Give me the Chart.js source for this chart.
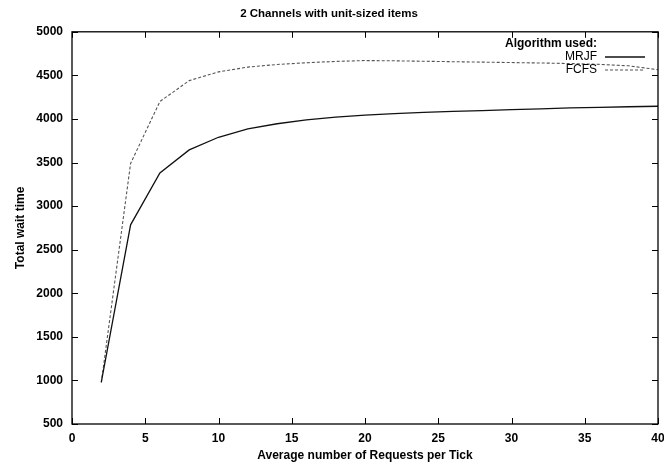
<!DOCTYPE html>
<html>
<head>
<meta charset="utf-8">
<script src="https://cdn.jsdelivr.net/npm/chart.js@4.4.1/dist/chart.umd.min.js"></script>
<style>
  html,body{margin:0;padding:0;background:#fff;}
  #wrap{width:664px;height:464px;}
</style>
</head>
<body>
<div id="wrap"><canvas id="waitChart" width="664" height="464"></canvas></div>
<script>
const requests = [2,4,6,8,10,12,14,16,18,20,22,24,26,28,30,32,34,36,38,40];
const mrjf = [980,2785,3380,3645,3790,3885,3945,3990,4020,4045,4062,4076,4086,4096,4106,4116,4126,4134,4140,4146];
const fcfs = [975,3490,4200,4440,4540,4595,4625,4645,4660,4670,4667,4662,4657,4652,4647,4642,4636,4626,4610,4565];
const xTicks = [0,5,10,15,20,25,30,35,40];
const yTicks = [500,1000,1500,2000,2500,3000,3500,4000,4500,5000];

const FONT = 'Liberation Sans, Arial, Helvetica, sans-serif';

// gnuplot-style frame with inward ticks on all four sides, plus the key
const framePlugin = {
  id: 'frame',
  afterDatasetsDraw(chart){
    const {ctx, chartArea:a, scales:{x, y}} = chart;
    ctx.save();
    ctx.strokeStyle = '#000';
    ctx.lineWidth = 1.3;
    ctx.strokeRect(a.left, a.top, a.right - a.left, a.bottom - a.top);
    ctx.lineWidth = 1;
    const len = 6;
    ctx.beginPath();
    xTicks.forEach(v => {
      const px = Math.round(x.getPixelForValue(v)) + 0.5;
      ctx.moveTo(px, a.bottom); ctx.lineTo(px, a.bottom - len);
      ctx.moveTo(px, a.top); ctx.lineTo(px, a.top + len);
    });
    yTicks.forEach(v => {
      const py = Math.round(y.getPixelForValue(v)) + 0.5;
      ctx.moveTo(a.left, py); ctx.lineTo(a.left + len, py);
      ctx.moveTo(a.right, py); ctx.lineTo(a.right - len, py);
    });
    ctx.stroke();

    const tx = 597, sx0 = 605, sx1 = 645;
    ctx.fillStyle = '#000';
    ctx.textAlign = 'right';
    ctx.textBaseline = 'middle';
    ctx.font = 'bold 12px ' + FONT;
    ctx.fillText('Algorithm used:', tx, 44);
    ctx.font = '12px ' + FONT;
    chart.data.datasets.forEach((ds, i) => {
      const ly = 57 + i * 13;
      ctx.fillText(ds.label, tx, ly);
      ctx.strokeStyle = ds.borderColor;
      ctx.lineWidth = ds.borderWidth;
      ctx.setLineDash(ds.borderDash || []);
      ctx.beginPath();
      ctx.moveTo(sx0, ly); ctx.lineTo(sx1, ly);
      ctx.stroke();
    });
    ctx.restore();
  }
};

new Chart(document.getElementById('waitChart'), {
  type: 'line',
  data: {
    datasets: [
      {label:'MRJF', data: requests.map((r,i)=>({x:r, y:mrjf[i]})), borderColor:'#111', borderWidth:1.3, pointRadius:0, tension:0, fill:false},
      {label:'FCFS', data: requests.map((r,i)=>({x:r, y:fcfs[i]})), borderColor:'#555', borderWidth:1.1, borderDash:[3,2], pointRadius:0, tension:0, fill:false}
    ]
  },
  options: {
    responsive:false,
    animation:false,
    devicePixelRatio:1,
    layout:{padding:{left:0, right:6, top:0, bottom:0}},
    plugins:{
      legend:{display:false},
      tooltip:{enabled:false},
      title:{display:true, text:'2 Channels with unit-sized items', color:'#000',
        font:{family:FONT, size:11.5, weight:'bold'}, padding:{top:7, bottom:11}}
    },
    scales:{
      x:{
        type:'linear', min:0, max:40,
        afterBuildTicks(s){ s.ticks = xTicks.map(v=>({value:v})); },
        afterFit(s){ s.height = 40; s.paddingRight = 0; s.paddingLeft = 0; },
        grid:{display:false, drawTicks:false},
        border:{display:false},
        ticks:{color:'#000', font:{family:FONT, size:12, weight:'bold'}, padding:7, maxRotation:0,
          callback:v=>String(v)},
        title:{display:true, text:'Average number of Requests per Tick', color:'#000',
          font:{family:FONT, size:12, weight:'bold'}, padding:{top:2, bottom:1}}
      },
      y:{
        type:'linear', min:500, max:5000,
        afterBuildTicks(s){ s.ticks = yTicks.map(v=>({value:v})); },
        afterFit(s){ s.width = 72; },
        grid:{display:false, drawTicks:false},
        border:{display:false},
        ticks:{color:'#000', font:{family:FONT, size:12, weight:'bold'}, padding:9,
          callback:v=>String(v)},
        title:{display:true, text:'Total wait time', color:'#000',
          font:{family:FONT, size:12, weight:'bold'}, padding:{top:13, bottom:8}}
      }
    }
  },
  plugins:[framePlugin]
});
</script>
</body>
</html>
